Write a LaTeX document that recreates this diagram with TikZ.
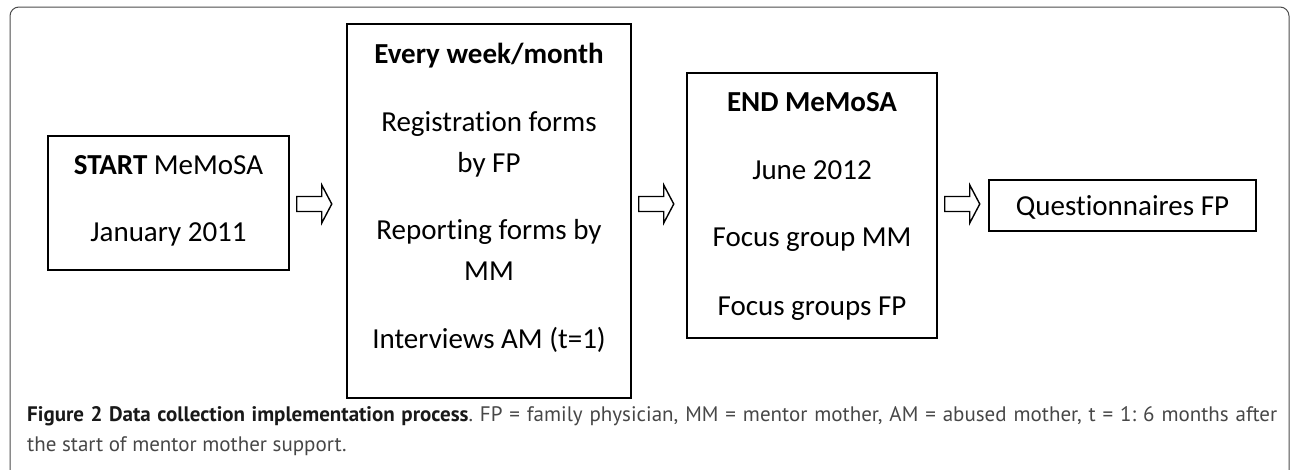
\documentclass[tikz,border=0pt]{standalone}
\usepackage{fontspec}
\setmainfont[Ligatures=NoCommon]{Carlito}
\newfontfamily\captionfont[Ligatures=NoCommon]{PT Sans}
\usetikzlibrary{positioning,calc}

\tikzset{
  stagebox/.style={draw, line width=1.5pt, inner sep=0pt},
  stagetext/.style={align=center, inner sep=0pt, font=\fontsize{29}{41}\selectfont},
  flowarrow/.style={draw, line width=1.4pt, line join=miter},
}
\newcommand{\hollowarrow}[2]{%
  \draw[flowarrow] ($(#1.east |- axis)+(7,7.5)$) -- ++(25,0) -- ++(0,11.5)
    -- ++(10,-19) -- ++(-10,-19) -- ++(0,11.5) -- ++(-25,0) -- cycle;}

\begin{document}
\frenchspacing
\begin{tikzpicture}[x=1pt,y=-1pt]
            \useasboundingbox (0,0) rectangle (1290,469);
            \draw [black!70, line width=1pt, rounded corners=9] (10,474) -- (10,7) -- (1289,7) -- (1289,474);
            \coordinate (axis) at (0,204);
            % boxes
            \node [stagebox, minimum width=241, minimum height=134] (start) at (168.5,203) {};
            \node [stagetext] (starttext) at (168.5,201) {\textbf{START} MeMoSA\\[26pt]January 2011};
            \node [stagebox, minimum width=284, minimum height=374] (weekly) at (489,211) {};
            \node [stagetext] (weeklytext) at (489,197.5) {\textbf{Every week/month}\\[27pt]Registration forms\\by FP\\[26pt]Reporting forms by\\MM\\[27pt]Interviews AM (t=1)};
            \node [stagebox, minimum width=250, minimum height=265] (final) at (812,205.5) {};
            \node [stagetext] (finaltext) at (812,206) {\textbf{END MeMoSA}\\[27pt]June 2012\\[26pt]Focus group MM\\[28pt]Focus groups FP};
            \node [stagebox, minimum width=267, minimum height=51] (quest) at (1122.5,205.5) {};
            \node [stagetext] (questtext) at (1122.5,207) {Questionnaires FP};
            % arrows
            \hollowarrow{start}{weekly}
            \hollowarrow{weekly}{final}
            \hollowarrow{final}{quest}
            % caption
            \node [anchor=north west, inner sep=0pt, text width=1250pt, align=justify,
                   font=\captionfont\fontsize{21}{30}\selectfont, text=black!72] (caption) at (27,406)
                  {\textcolor{black!90}{\textbf{Figure 2 Data collection implementation process}}. FP = family physician, MM = mentor mother, AM = abused mother, t = 1: 6 months after\linebreak the start of mentor mother support.};
            \end{tikzpicture}
\end{document}
